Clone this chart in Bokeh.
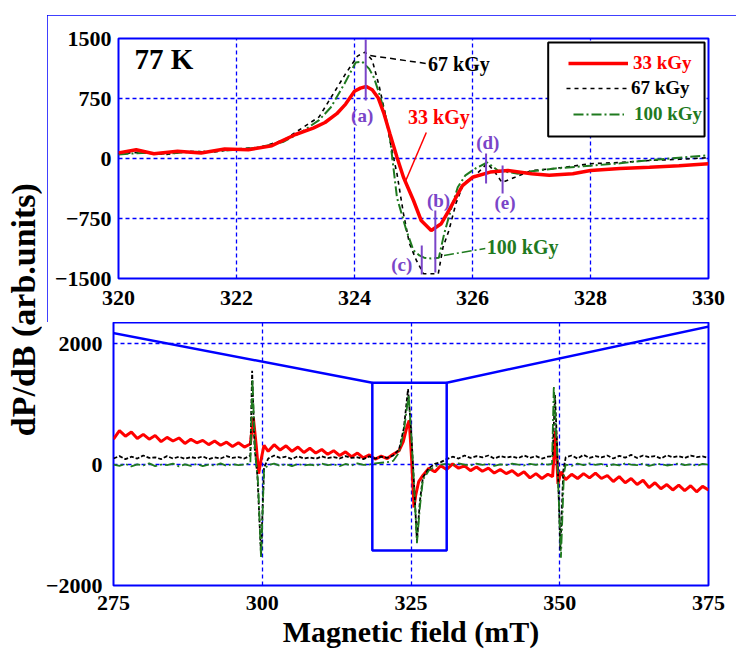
from math import pi
from bokeh.plotting import figure
from bokeh.layouts import row, column
from bokeh.models import FixedTicker, BoxAnnotation, Legend, LegendItem, Label
from bokeh.core.properties import value
from bokeh.embed import file_html
from bokeh.resources import INLINE

# ---------------- data: inset (77 K, 320-330 mT) ----------------
inset_red_x = [320.0, 320.3, 320.6, 321.0, 321.4, 321.8, 322.2, 322.6, 323.0, 323.3,
               323.5, 323.7, 323.85, 324.0, 324.1, 324.2, 324.3, 324.4, 324.5, 324.6,
               324.72, 324.83, 325.0, 325.13, 325.3, 325.47, 325.6, 325.72, 325.83, 326.0,
               326.3, 326.6, 327.0, 327.3, 327.7, 328.0, 328.5, 329.0, 329.5, 330.0]
inset_red_y = [70, 110, 60, 90, 70, 120, 110, 160, 300, 380,
               450, 560, 680, 840, 880, 900, 860, 760, 560, 310,
               15, -235, -525, -775, -900, -815, -650, -485, -340, -235,
               -170, -150, -190, -210, -190, -150, -125, -110, -90, -65]

inset_black_x = [320.0, 320.4, 320.8, 321.2, 321.6, 322.0, 322.4, 322.8, 323.1, 323.4,
                 323.6, 323.85, 324.05, 324.18, 324.3, 324.42, 324.52, 324.6, 324.72, 324.83,
                 324.93, 325.05, 325.17, 325.3, 325.42, 325.5, 325.6, 325.72, 325.85, 326.05,
                 326.25, 326.38, 326.5, 326.72, 327.0, 327.4, 328.0, 328.5, 329.0, 329.5, 330.0]
inset_black_y = [60, 80, 50, 90, 80, 120, 140, 230, 375, 520,
                 760, 1060, 1280, 1330, 1230, 900, 560, 225, -190, -690,
                 -1060, -1275, -1440, -1440, -1440, -1110, -900, -560, -310, -210,
                 -60, -170, -300, -235, -150, -125, -65, -50, -25, -10, 10]

inset_green_x = [320.0, 320.4, 320.8, 321.2, 321.6, 322.0, 322.4, 322.8, 323.1, 323.4,
                 323.6, 323.83, 324.02, 324.13, 324.25, 324.33, 324.42, 324.52, 324.6, 324.72,
                 324.88, 325.0, 325.1, 325.18, 325.3, 325.43, 325.52, 325.63, 325.75, 325.88,
                 326.05, 326.25, 326.43, 326.77, 327.0, 327.4, 328.0, 328.5, 329.0, 329.5, 330.0]
inset_green_y = [50, 70, 60, 80, 90, 110, 140, 210, 330, 480,
                 640, 935, 1200, 1210, 1120, 1010, 810, 560, 260, -490,
                 -900, -1150, -1212, -1240, -1250, -1240, -940, -650, -360, -210,
                 -125, -50, -150, -190, -160, -125, -90, -60, -20, 10, 40]

inset_xticks = [320, 322, 324, 326, 328, 330]
inset_yticks = [-1500, -750, 0, 750, 1500]

# peak markers (a)-(e)
mark_x = [324.19, 325.37, 325.14, 326.23, 326.51]
mark_y0 = [1487, -650, -1087, 62, -87]
mark_y1 = [725, -1425, -1450, -312, -437]
mark_text = ["(a)", "(b)", "(c)", "(d)", "(e)"]
mark_tx = [324.13, 325.425, 324.8, 326.26, 326.55]
mark_ty = [537, -525, -1325, 200, -550]

# dose annotations in the inset
dose_labels = ["33 kGy", "67 kGy", "100 kGy"]
ann_text = ["67 kGy", "33 kGy", "100 kGy"]
ann_x = [325.77, 325.43, 326.85]
ann_y = [1187, 525, -1112]

# ---------------- data: main spectrum (275-375 mT) ----------------
main_red_x = [275, 276, 277, 278, 279, 280, 281, 282, 283, 284, 285, 286, 287, 288, 289, 290,
              291, 292, 293, 294, 295, 296, 297, 298, 298.5, 299.0, 299.4, 299.8, 300.3, 301,
              302, 303, 304, 305, 306, 307, 308, 309, 310, 311, 312, 313, 314, 315, 316, 317,
              318, 319, 320, 321, 322, 323, 323.7, 324.3, 324.7, 325.1, 325.5, 325.8, 326.3, 327,
              328, 329, 330, 331, 332, 333, 334, 335, 336, 337, 338, 339, 340, 341, 342, 343,
              344, 345, 346, 347, 348, 348.8, 349.3, 349.7, 350.2, 351, 352, 353, 354, 355, 356,
              357, 358, 359, 360, 361, 362, 363, 364, 365, 366, 367, 368, 369, 370, 371, 372,
              373, 374, 375]
main_red_y = [420, 560, 470, 540, 430, 500, 420, 480, 380, 450, 390, 440, 350, 420, 360, 400,
              330, 390, 320, 370, 300, 360, 290, 340, 780, 300, -150, 80, 320, 220,
              330, 240, 310, 220, 290, 200, 270, 190, 250, 170, 230, 150, 210, 130, 190, 110,
              160, 90, 140, 100, 170, 230, 380, 620, 730, 100, -710, -500, -280, -180,
              -60, -120, -20, -80, 10, -60, -20, -100, -40, -110, -60, -140, -80, -150, -100, -180,
              -120, -220, -150, -230, -160, -200, 560, -320, -120, -250, -160, -230, -150, -220, -140,
              -230, -180, -280, -200, -300, -230, -330, -260, -380, -300, -400, -330, -420, -340, -430, -350,
              -450, -360, -420]

main_black_x = [275, 276, 277, 278, 279, 280, 281, 282, 283, 284, 285, 286, 287, 288, 289, 290,
                291, 292, 293, 294, 295, 296, 297, 298.0, 298.3, 298.7, 299.2, 299.8, 300.3,
                301, 302, 303, 304, 305, 306, 307, 308, 309, 310, 311, 312, 313, 314, 315, 316,
                317, 318, 319, 320, 321, 322, 323, 323.8, 324.5, 325.0, 325.5, 326.0, 326.5, 327,
                328, 329, 330, 331, 332, 333, 334, 335, 336, 337, 338, 339, 340, 341, 342, 343,
                344, 345, 346, 347, 348, 348.8, 349.2, 349.6, 350.1, 350.6, 351, 352, 353, 354,
                355, 356, 357, 358, 359, 360, 361, 362, 363, 364, 365, 366, 367, 368, 369, 370,
                371, 372, 373, 374, 375]
main_black_y = [100, 140, 90, 130, 100, 150, 110, 120, 90, 140, 100, 130, 95, 125, 105, 135,
                90, 120, 100, 140, 110, 125, 100, 150, 1550, 300, -200, -1500, -50,
                100, 150, 110, 130, 90, 140, 100, 120, 95, 135, 105, 125, 100, 140, 110, 120,
                90, 135, 100, 130, 110, 150, 250, 600, 1250, 600, -300, -1260, -600, -215,
                -60, 10, 40, 90, 130, 100, 150, 110, 140, 120, 150, 100, 140, 115, 135, 105,
                150, 110, 140, 100, 130, 140, 1150, 200, -1420, -100, 120, 150, 100, 160,
                110, 140, 120, 150, 100, 145, 115, 160, 110, 150, 125, 140, 100, 155, 120, 140,
                110, 150, 125, 135, 110]

main_green_x = [275, 276, 277, 278, 279, 280, 281, 282, 283, 284, 285, 286, 287, 288, 289, 290,
                291, 292, 293, 294, 295, 296, 297, 298.0, 298.35, 298.8, 299.3, 299.8, 300.3,
                301, 302, 303, 304, 305, 306, 307, 308, 309, 310, 311, 312, 313, 314, 315, 316,
                317, 318, 319, 320, 321, 322, 323, 323.8, 324.6, 325.1, 325.6, 326.0, 326.5, 327,
                328, 329, 330, 331, 332, 333, 334, 335, 336, 337, 338, 339, 340, 341, 342, 343,
                344, 345, 346, 347, 348, 348.7, 349.0, 349.5, 350.2, 350.7, 351, 352, 353, 354,
                355, 356, 357, 358, 359, 360, 361, 362, 363, 364, 365, 366, 367, 368, 369, 370,
                371, 372, 373, 374, 375]
main_green_y = [0, -20, 10, -30, 5, -15, 20, -25, 0, -10, 15, -30, 5, -20, 10, -25,
                0, -15, 20, -20, 5, -10, 0, 20, 1420, 200, -300, -1550, -80,
                -10, 15, -20, 5, -25, 10, -15, 0, -20, 15, -10, 5, -25, 10, -15, 20,
                -5, 0, 20, 30, 40, 60, 200, 550, 1150, 400, -500, -1300, -700, -250,
                -100, -30, 0, 10, -10, 20, 0, -15, 15, -5, 10, -20, 5, -10, 15, 0,
                -15, 10, -5, 15, 0, 10, 1300, 300, -1540, -150, 0, -20, 15, -10,
                20, -5, 10, -25, 5, -15, 20, 0, -10, 15, -20, 5, 10, -15, 0, 20,
                -10, 5, -20, 10, 0]

main_xticks = [275, 300, 325, 350, 375]
main_yticks = [-2000, 0, 2000]

# zoomed region marked in the main plot, and inset corners in main-plot units
zoom_box_x = [318.5, 331.0]
zoom_box_y = [-1420, 1355]
inset_corner_x = [265.6, 379.6]
inset_corner_y = [2350, 2380]

# ---------------- styles ----------------
FONT = "Liberation Serif"
BLUE = "#0000ff"
RED = "#ff0000"
BLACK = "#000000"
GREEN = "#1f7a1f"
PURPLE = "#7a45c8"


def style(p, xticks, yticks, xstand, ystand):
    p.xaxis.ticker = FixedTicker(ticks=xticks)
    p.yaxis.ticker = FixedTicker(ticks=yticks)
    p.xgrid.ticker = FixedTicker(ticks=xticks)
    p.ygrid.ticker = FixedTicker(ticks=yticks)
    for ax in p.axis:
        ax.axis_line_color = None
        ax.major_tick_line_color = None
        ax.minor_tick_line_color = None
        ax.major_tick_out = 0
        ax.major_tick_in = 0
        ax.minor_tick_out = 0
        ax.major_label_text_font = FONT
        ax.major_label_text_font_style = "bold"
        ax.major_label_text_font_size = "22px"
        ax.major_label_text_color = "black"
    p.xaxis.major_label_standoff = xstand
    p.yaxis.major_label_standoff = ystand
    p.grid.grid_line_color = BLUE
    p.grid.grid_line_dash = "4 3"
    p.grid.grid_line_width = 1.3
    p.outline_line_color = BLUE
    p.outline_line_width = 2
    p.outline_line_alpha = 1
    p.background_fill_color = "white"
    p.border_fill_color = "white"


# ---------------- left label strip ----------------
pl = figure(width=42, height=655, x_range=(0, 1), y_range=(0, 1),
            x_axis_location=None, y_axis_location=None, min_border=0,
            output_backend="svg", toolbar_location=None)
pl.grid.visible = False
pl.outline_line_color = None
pl.add_layout(Label(x=0.55, y=0.528, text="dP/dB (arb.units)", angle=pi / 2,
                    text_align="center", text_baseline="middle",
                    text_font=FONT, text_font_style="bold", text_font_size="34px",
                    text_color="black"))

# ---------------- inset (its own blue frame is the figure outline) ----------------
pi_ = figure(width=689, height=307, x_range=(320, 330), y_range=(-1500, 1500),
             min_border_left=70, min_border_right=18, min_border_top=23, min_border_bottom=44,
             margin=(15, 0, 0, 5),
             styles={"outline": "3px solid #0000ff", "outline-offset": "-3px"},
             output_backend="svg", toolbar_location=None)
style(pi_, inset_xticks, inset_yticks, 12, 7)

r_black = pi_.line(inset_black_x, inset_black_y, line_color=BLACK, line_width=1.6, line_dash="4 4")
r_green = pi_.line(inset_green_x, inset_green_y, line_color=GREEN, line_width=2, line_dash="10 3 2 3")
r_red = pi_.line(inset_red_x, inset_red_y, line_color=RED, line_width=3.5)

pi_.segment(x0=mark_x, y0=mark_y0, x1=mark_x, y1=mark_y1, line_color=PURPLE, line_width=2)
pi_.text(x=mark_tx, y=mark_ty, text=mark_text, text_align="center", text_baseline="middle",
         text_font=value(FONT), text_font_style="bold", text_font_size="19px", text_color=PURPLE)

# leader lines
pi_.segment(x0=[324.267], y0=[1287], x1=[325.217], y1=[1187], line_color=BLACK, line_width=1.5, line_dash="6 4")
pi_.segment(x0=[325.217], y0=[325], x1=[324.87], y1=[-275], line_color=RED, line_width=1.5)
pi_.segment(x0=[325.517], y0=[-1212], x1=[326.217], y1=[-1125], line_color=GREEN, line_width=1.5, line_dash="10 3 2 3")
pi_.text(x=ann_x, y=ann_y, text=ann_text, text_align="center", text_baseline="middle",
         text_font=value(FONT), text_font_style="bold", text_font_size="20px",
         text_color=[BLACK, RED, GREEN])

pi_.add_layout(Label(x=320.77, y=1250, text="77 K", text_align="center", text_baseline="middle",
                     text_font=FONT, text_font_style="bold", text_font_size="29px", text_color="black"))

# legend frame + three single-entry legends (each label has its own colour)
pi_.add_layout(BoxAnnotation(left=327.283, right=329.933, top=1450, bottom=275,
                             fill_color="white", fill_alpha=1, line_color=BLACK,
                             line_alpha=1, line_width=2))
for lab, rend, col, loc, gw, so in zip(dose_labels, [r_red, r_black, r_green], [RED, BLACK, GREEN],
                                       [(450, 204), (448, 179), (455, 153)], [60, 61, 51], [5, 4, 10]):
    pi_.add_layout(Legend(items=[LegendItem(label=lab, renderers=[rend])], location=loc,
                          border_line_color=None, background_fill_alpha=0, padding=0, margin=0,
                          spacing=0, glyph_width=gw, glyph_height=20, label_standoff=so,
                          label_height=20, label_text_font=FONT, label_text_font_style="bold",
                          label_text_font_size="19px", label_text_color=col))

# ---------------- main spectrum ----------------
pm = figure(width=694, height=333, x_range=(275, 375), y_range=(-2000, 2350),
            min_border_left=62, min_border_right=28, min_border_top=0, min_border_bottom=70,
            output_backend="svg", toolbar_location=None)
style(pm, main_xticks, main_yticks, 10, 11)
pm.xaxis.axis_label = "Magnetic field (mT)"
pm.xaxis.axis_label_standoff = 2
pm.xaxis.axis_label_text_font = FONT
pm.xaxis.axis_label_text_font_style = "bold"
pm.xaxis.axis_label_text_font_size = "30px"
pm.xaxis.axis_label_text_color = "black"

pm.line(main_red_x, main_red_y, line_color=RED, line_width=3)
pm.line(main_black_x, main_black_y, line_color=BLACK, line_width=1.8, line_dash="4 2")
pm.line(main_green_x, main_green_y, line_color=GREEN, line_width=1.8, line_dash="10 3 2 3")

pm.quad(left=[zoom_box_x[0]], right=[zoom_box_x[1]], bottom=[zoom_box_y[0]], top=[zoom_box_y[1]],
        fill_color=None, line_color=BLUE, line_width=2.5)
pm.segment(x0=zoom_box_x, y0=[zoom_box_y[1], zoom_box_y[1]], x1=inset_corner_x, y1=inset_corner_y,
           line_color=BLUE, line_width=2.5)

layout = row(pl, column(pi_, pm))
open("out.html", "w").write(file_html(layout, INLINE))
